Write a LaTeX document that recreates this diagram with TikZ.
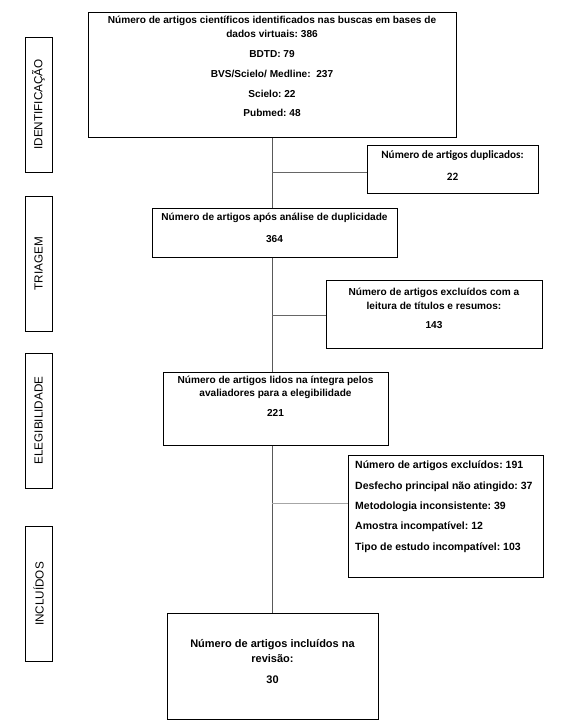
\documentclass[tikz,border=0pt]{standalone}
\usepackage{fontspec}
\setmainfont{Liberation Sans}
\newfontfamily\calib{Carlito}
\frenchspacing
\begin{document}
\begin{tikzpicture}[x=1pt,y=-1pt,
  box/.style={draw=black,line width=1pt,rectangle,inner sep=0pt},
  side/.style={draw=black,line width=0.9pt,rectangle,inner sep=0pt,minimum width=27pt,minimum height=135pt},
  sidetxt/.style={rotate=90,font=\fontsize{11.7}{13}\selectfont,inner sep=0pt},
  txt/.style={font=\bfseries\fontsize{10.1}{12}\selectfont,inner sep=0pt,anchor=center},
  btxt/.style={font=\bfseries\fontsize{11}{13}\selectfont,inner sep=0pt,anchor=center},
  ltxt/.style={font=\bfseries\fontsize{10.5}{13}\selectfont,inner sep=0pt,anchor=west},
  ctxt/.style={font=\calib\bfseries\fontsize{11.2}{13}\selectfont,inner sep=0pt,anchor=center},
  spine/.style={draw=black!65,line width=0.8pt},
  branch/.style={draw=black!60,line width=0.8pt}]
\useasboundingbox[fill=white] (0,0) rectangle (563,728);

% side labels
\node[side] (s1) at (38.5,104.5) {};
\node[sidetxt] (s1t) at (s1.center) {IDENTIFICAÇÃO};
\node[side] (s2) at (38.5,263.5) {};
\node[sidetxt] (s2t) at (s2.center) {TRIAGEM};
\node[side] (s3) at (38.5,420.5) {};
\node[sidetxt] (s3t) at (s3.center) {ELEGIBILIDADE};
\node[side] (s4) at (38.5,594) {};
\node[sidetxt] (s4t) at (s4.center) {INCLUÍDOS};

% top box
\node[box,minimum width=368pt,minimum height=125pt] (n1) at (272,74.5) {};
\node[txt] (n1a) at (272,21) {Número de artigos científicos identificados nas buscas em bases de};
\node[txt] (n1b) at (272,34) {dados virtuais: 386};
\node[txt] (n1c) at (272,54) {BDTD: 79};
\node[txt] (n1d) at (272,74) {BVS/Scielo/ Medline:\ \ 237};
\node[txt] (n1e) at (272,94) {Scielo: 22};
\node[txt] (n1f) at (272,113) {Pubmed: 48};

% duplicates
\node[box,minimum width=171pt,minimum height=48pt] (dup) at (452.5,169) {};
\node[ctxt] (dupa) at (452.5,156) {Número de artigos duplicados:};
\node[ctxt] (dupb) at (452.5,177) {22};

% 364
\node[box,minimum width=245pt,minimum height=49pt] (n2) at (274.5,232.5) {};
\node[txt] (n2a) at (274.5,218) {Número de artigos após análise de duplicidade};
\node[txt] (n2b) at (274.5,239) {364};

% 143
\node[box,minimum width=216pt,minimum height=68pt] (exc1) at (434,314) {};
\node[txt] (exc1a) at (434,293) {Número de artigos excluídos com a};
\node[txt] (exc1b) at (434,306) {leitura de títulos e resumos:};
\node[txt] (exc1c) at (434,325) {143};

% 221
\node[box,minimum width=225pt,minimum height=73pt] (n3) at (275.5,408.5) {};
\node[txt] (n3a) at (275.5,381) {Número de artigos lidos na íntegra pelos};
\node[txt] (n3b) at (275.5,394) {avaliadores para a elegibilidade};
\node[txt] (n3c) at (275.5,413) {221};

% excluded 191
\node[box,minimum width=195pt,minimum height=122pt] (exc2) at (445.5,516) {};
\node[ltxt] (exc2a) at (355,466) {Número de artigos excluídos: 191};
\node[ltxt] (exc2b) at (355,486.5) {Desfecho principal não atingido: 37};
\node[ltxt] (exc2c) at (355,507) {Metodologia inconsistente: 39};
\node[ltxt] (exc2d) at (355,527) {Amostra incompatível: 12};
\node[ltxt] (exc2e) at (355,547.5) {Tipo de estudo incompatível: 103};

% final
\node[box,minimum width=211pt,minimum height=106pt] (n4) at (272.5,666) {};
\node[btxt] (n4a) at (272.5,645) {Número de artigos incluídos na};
\node[btxt] (n4b) at (272.5,659) {revisão:};
\node[btxt] (n4c) at (272.5,680) {30};

% connectors
\coordinate (c1) at (272,172);
\coordinate (c2) at (272,315);
\coordinate (c3) at (272,503);
\draw[spine] (n1.south -| c1) -- (c1 |- n2.north);
\draw[spine] (c1 |- n2.south) -- (c1 |- n3.north);
\draw[spine] (c1 |- n3.south) -- (c1 |- n4.north);
\draw[branch] (c1) -- (c1 -| dup.west);
\draw[branch] (c2) -- (c2 -| exc1.west);
\draw[draw=black!35,line width=0.8pt] (c3) -- (c3 -| exc2.west);
\end{tikzpicture}
\end{document}
